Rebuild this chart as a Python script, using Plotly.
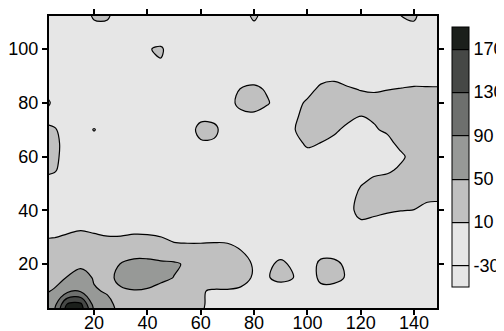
import plotly.graph_objects as go

# grid coordinates (data units)
x_vals = list(range(0, 155, 5))      # 0..150
y_vals = list(range(0, 120, 5))      # 0..115

N = -10  # background level (-30..10 band)

# z values, one row per y value (bottom to top)
z_y0   = [65, 88, 200, 205, 100, 60, 46, 30, 30, 30, 30, 30, 12, N, N, N, N, N, N, N, N, N, N, N, N, N, N, N, N, N, N]
z_y5   = [60, 75, 175, 180, 75, 55, 44, 30, 30, 30, 30, 30, 19, N, N, N, N, N, N, N, N, N, N, N, N, N, N, N, N, N, N]
z_y10  = [45, 52, 80, 85, 52, 48, 45, 48, 45, 35, 35, 30, 12, 7, 7, 1, N, N, -30, N, N, N, N, N, N, N, N, N, N, N, N]
z_y15  = [35, 42, 51, 60, 48, 40, 60, 70, 70, 60, 49, 40, 30, 30, 30, 30, 4, 5, 30, 9, -30, 25, 25, 5, N, N, N, N, N, N, N]
z_y20  = [30, 32, 40, 45, 38, 40, 51, 60, 60, 55, 55, 45, 30, 30, 30, 30, 5, 0, 20, 0, -20, 22, 22, 0, N, N, N, N, N, N, N]
z_y25  = [30, 30, 30, 30, 30, 30, 35, 35, 35, 35, 25, 30, 30, 30, 30, 11, N, N, N, N, N, N, N, N, N, N, N, N, N, N, N]
z_y30  = [8, 9, 17, 30, 18, 12, 12, 16, 15, 11, 1, -6, -6, -3, -6, N, N, N, N, N, N, N, N, N, N, N, N, N, N, N, N]
z_y35  = [N, N, N, N, N, N, N, N, N, N, N, N, N, N, N, N, N, N, N, N, N, N, N, N, 0, -8, N, -15, N, N, N]
z_y40  = [N, N, N, N, N, N, N, N, N, N, N, N, N, N, N, N, N, N, N, N, N, N, N, N, 30, 25, 15, 11, 9, N, N]
z_y45  = [N, N, N, N, N, N, N, N, N, N, N, N, N, N, N, N, N, N, N, N, N, N, N, -25, 30, 30, 30, 30, 26, 23, 21]
z_y50  = [N, N, N, N, N, N, N, N, N, N, N, N, N, N, N, N, N, N, N, N, N, N, N, N, 5, 26, 36, 30, 30, 30, 30]
z_y55  = [25, 15, N, N, N, N, N, N, N, N, N, N, N, N, N, N, N, N, N, N, N, N, N, N, N, -5, 0, 20, 30, 30, 30]
z_y60  = [30, 22, N, N, N, N, N, N, N, N, N, N, N, N, N, N, N, N, N, N, N, N, N, N, N, N, N, 0, 30, 30, 30]
z_y65  = [30, 24, N, N, N, N, N, N, N, N, N, N, 5, 5, N, N, N, N, N, N, 20, 9, -5, N, N, N, -5, 25, 30, 30, 30]
z_y70  = [30, 15, N, N, 12, N, N, N, N, N, N, N, 23, 19, N, N, N, N, N, 8, 30, 30, 20, -3, -5, 5, 18, 30, 30, 30, 30]
z_y75  = [N, N, N, N, N, N, N, N, N, N, N, N, 0, 0, N, -5, 0, N, N, 0, 30, 30, 30, 25, 9, 16, 30, 30, 30, 30, 30]
z_y80  = [60, N, N, N, N, N, N, N, N, N, N, N, N, N, N, 25, 30, 14, N, N, 19, 30, 30, 30, 30, 30, 30, 30, 30, 30, 30]
z_y85  = [N, N, N, N, N, N, N, N, N, N, N, N, N, N, N, 12, 20, 5, N, N, N, 23, 40, 16, 8, 4, 9, 12, 16, 15, 15]
z_y90  = [N, N, N, N, N, N, N, N, N, N, N, N, N, N, N, N, N, N, N, N, N, N, N, N, N, N, N, N, N, N, N]
z_y95  = [N, N, N, N, N, N, N, N, N, 5, N, N, N, N, N, N, N, N, N, N, N, N, N, N, N, N, N, N, N, N, N]
z_y100 = [N, N, N, N, N, N, N, N, 5, 20, -30, N, N, N, N, N, N, N, N, N, N, N, N, N, N, N, N, N, N, N, N]
z_y105 = [N, N, N, N, N, N, N, N, N, -30, N, N, N, N, N, N, N, N, N, N, N, N, N, N, N, N, N, N, N, N, N]
z_y110 = [N, N, N, N, 8, 8, N, N, N, N, N, N, N, N, N, N, 8, N, N, N, N, N, N, N, N, N, N, 5, 9, N, N]
z_y115 = [N, N, N, N, 20, 20, N, N, N, N, N, N, N, N, N, N, 30, N, N, N, N, N, N, N, N, N, N, 15, 20, N, N]

z_rows = [z_y0, z_y5, z_y10, z_y15, z_y20, z_y25, z_y30, z_y35, z_y40, z_y45, z_y50,
          z_y55, z_y60, z_y65, z_y70, z_y75, z_y80, z_y85, z_y90, z_y95, z_y100,
          z_y105, z_y110, z_y115]

levels = [-30, 10, 50, 90, 130, 170]
band_colors = ['#e6e6e6', '#c0c0c0', '#979997', '#6e706e', '#464846', '#1b1f1b']
x_ticks = [20, 40, 60, 80, 100, 120, 140]
y_ticks = [20, 40, 60, 80, 100]

# plotly samples each filled band at (k+1)/6 of the scale; pin the colours there
nb = len(band_colors)
colorscale = [[0.0, band_colors[0]]]
for k, c in enumerate(band_colors):
    colorscale.append([(k + 1) / nb, c])

font = dict(family='Liberation Sans, Arial, sans-serif', size=18, color='black')

fig = go.Figure(go.Contour(
    x=x_vals, y=y_vals, z=z_rows,
    autocontour=False,
    contours=dict(start=levels[0], end=levels[-1], size=40, coloring='fill', showlines=True),
    line=dict(color='black', width=1.2, smoothing=1),
    colorscale=colorscale,
    colorbar=dict(
        thickness=17, thicknessmode='pixels',
        len=260, lenmode='pixels',
        x=1.0387, xanchor='left', xpad=0,
        y=0.517, yanchor='middle', ypad=0,
        outlinewidth=1, outlinecolor='black',
        tickvals=levels, ticktext=[str(v) for v in levels],
        ticks='', tickfont=font,
    ),
    hoverinfo='skip',
))

axis_common = dict(
    showgrid=False, zeroline=False, automargin=False,
    showline=True, linecolor='black', linewidth=2, mirror='ticks',
    ticks='outside', ticklen=5, tickwidth=1.5, tickcolor='black',
    tickfont=font,
)

# the page adds an 8px body margin, so the figure's own margins are set 8px smaller
fig.update_layout(
    width=504, height=331,
    margin=dict(l=41, r=75, t=8, b=31, autoexpand=False),
    paper_bgcolor='white', plot_bgcolor='white',
    xaxis=dict(range=[3.1, 148.6], tickvals=x_ticks, ticklabelstandoff=-8, **axis_common),
    yaxis=dict(range=[3.7, 112.3], tickvals=y_ticks, **axis_common),
    showlegend=False,
)

fig.write_html("out.html")
